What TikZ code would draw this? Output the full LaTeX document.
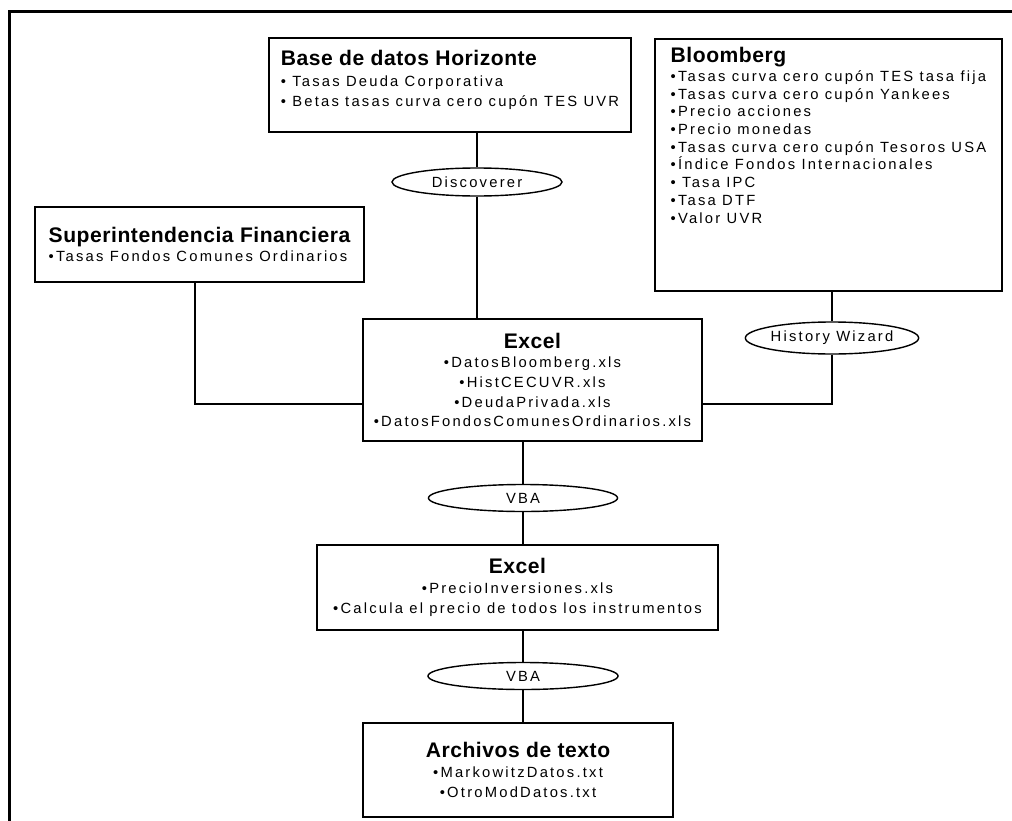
\documentclass[tikz,border=0pt]{standalone}
\usepackage{fontspec}
\setmainfont{Liberation Sans}
\newfontfamily\itemfont[LetterSpace=15]{Liberation Sans}
\newfontfamily\ttlfont[LetterSpace=2.5]{Liberation Sans}
\usetikzlibrary{shapes.geometric}

\newcommand{\ttl}[1]{{\ttlfont\fontsize{15}{16}\selectfont\bfseries #1}}
\tikzset{
  box/.style={draw, line width=1.3pt, align=left, inner sep=0pt,
    font={\itemfont\fontsize{10.5}{14}\selectfont}},
  cbox/.style={box, align=center},
  tool/.style={draw, ellipse, line width=1pt, inner sep=0pt,
    font={\itemfont\fontsize{10.5}{12}\selectfont}},
  link/.style={line width=1.3pt},
}

\begin{document}
\begin{tikzpicture}[x=0.025cm, y=-0.025cm]
%	\draw [help lines] (0,0) grid (1012,821);
		\useasboundingbox (0,0) rectangle (1012,821);
		\draw [line width=1.9pt] (9.7,821) -- (9.7,11.3) -- (1012,11.3);
% sources
		\node [box, minimum width=9.05cm, minimum height=2.35cm] (hor) at (450,85)
			{\ttl{Base de datos Horizonte}\\[1pt] • Tasas Deuda Corporativa\\ • Betas tasas curva cero cupón TES UVR\\[-4pt]\mbox{}};
		\node [box, minimum width=8.675cm, minimum height=6.3cm,
			font={\itemfont\fontsize{10.5}{12.6}\selectfont}] (bloom) at (828.5,165)
			{\ttl{Bloomberg}\\[1pt] •Tasas curva cero cupón TES tasa fija\\ •Tasas curva cero cupón Yankees\\
			 •Precio acciones\\ •Precio monedas\\ •Tasas curva cero cupón Tesoros USA\\
			 •Índice Fondos Internacionales\\ • Tasa IPC\\ •Tasa DTF\\ •Valor UVR\\[30pt]\mbox{}};
		\node [box, minimum width=8.225cm, minimum height=1.875cm] (sif) at (199.5,244.5)
			{\ttl{Superintendencia Financiera}\\ •Tasas Fondos Comunes Ordinarios};
% tools
		\node [tool, minimum width=4.25cm, minimum height=0.7cm] (disc) at (477,182) {Discoverer};
		\node [tool, minimum width=4.25cm, minimum height=0.8cm] (hw) at (832,338) {History Wizard};
% excel
		\node [cbox, minimum width=8.475cm, minimum height=3.05cm] (xls1) at (532.5,380)
			{\ttl{Excel}\\ •DatosBloomberg.xls\\ •HistCECUVR.xls\\ •DeudaPrivada.xls\\ •DatosFondosComunesOrdinarios.xls};
		\node [tool, minimum width=4.725cm, minimum height=0.675cm] (vba1) at (523,498) {VBA};
		\node [cbox, minimum width=10.025cm, minimum height=2.125cm] (xls2) at (517.5,587.5)
			{\ttl{Excel}\\ •PrecioInversiones.xls\\ •Calcula el precio de todos los instrumentos};
		\node [tool, minimum width=4.75cm, minimum height=0.675cm] (vba2) at (523,676) {VBA};
		\node [cbox, minimum width=7.75cm, minimum height=2.35cm] (txt) at (518,770)
			{\ttl{Archivos de texto}\\ •MarkowitzDatos.txt\\ •OtroModDatos.txt};
% connectors
		\coordinate (sj) at (195,404);
		\draw [link] (disc) -- (disc |- hor.south);
		\draw [link] (disc) -- (disc |- xls1.north);
		\draw [link] (hw) -- (hw |- bloom.south);
		\draw [link] (hw) |- (xls1.east |- sj);
		\draw [link] (sj |- sif.south) |- (xls1.west |- sj);
		\draw [link] (vba1) -- (vba1 |- xls1.south);
		\draw [link] (vba1) -- (vba1 |- xls2.north);
		\draw [link] (vba2) -- (vba2 |- xls2.south);
		\draw [link] (vba2) -- (vba2 |- txt.north);
\end{tikzpicture}
\end{document}
